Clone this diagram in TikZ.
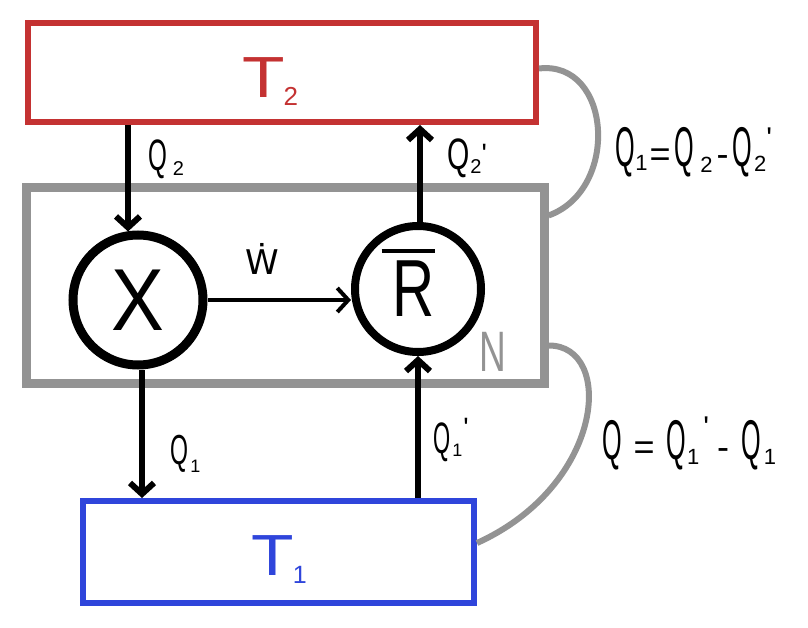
\documentclass[tikz,border=0pt]{standalone}
\usepackage{fontspec}
\setmainfont{Liberation Sans}
\newfontfamily\dvfont{DejaVu Sans}
\usepackage{graphicx}
\usetikzlibrary{arrows.meta,calc}
\definecolor{tred}{HTML}{C43232}
\definecolor{tgray}{HTML}{939393}
\definecolor{tblue}{HTML}{2F45DB}
\newcommand{\mylo}[3]{\raisebox{-#2}{\fontsize{#1}{#1}\selectfont #3}}
\newcommand{\myQ}[2]{\scalebox{#2}[1]{\fontsize{#1}{#1}\selectfont Q}}
\newcommand{\myprime}[2]{\raisebox{#2}{\fontsize{#1}{#1}\selectfont\textquotesingle}}
\tikzset{
  reservoir/.style={draw, rectangle, inner sep=0pt},
  machine/.style={draw, circle, inner sep=0pt, line width=9pt},
  lbl/.style={inner sep=0pt},
  arr/.style={line width=6pt, -{Straight Barb[length=11pt,width=24pt]}},
  warr/.style={line width=4pt, -{Straight Barb[length=11pt,width=24pt]}},
  link/.style={draw=tgray, line width=6pt},
}
\begin{document}
\begin{tikzpicture}[x=1pt, y=-1pt]
\useasboundingbox (0,0) rectangle (808,628);
% reservoirs and system boundary
\node[reservoir, draw=tred, line width=6pt, minimum width=508pt, minimum height=99pt] (T2) at (282,72.5) {};
\node[reservoir, draw=tgray, line width=9pt, minimum width=518pt, minimum height=195pt] (G) at (285,285.5) {};
\node[reservoir, draw=tblue, line width=6pt, minimum width=391pt, minimum height=102pt] (B) at (278.5,552) {};
% machines
\node[machine, minimum size=130pt, font=\fontsize{88}{88}\selectfont] (X) at (138,300) {\scalebox{0.9}[1]{X}};
\node[machine, line width=8pt, minimum size=126pt] (R) at (418,289) {};
\node[lbl, font=\fontsize{81}{81}\selectfont] (Rtxt) at (414,289) {\scalebox{0.72}[1]{R}};
\draw[line width=4pt] ($(Rtxt.north west)+(-11,-10)$) -- ($(Rtxt.north east)+(0,-10)$);
% labels of reservoirs and boundary
\node[lbl, text=tred, font=\fontsize{58}{58}\selectfont] (T2l) at (270,81.5)
  {\scalebox{1.2}[1]{T}\kern-1pt\mylo{26}{8pt}{2}};
\node[lbl, text=tblue, font=\fontsize{58}{58}\selectfont] (T1l) at (279,560)
  {\scalebox{1.2}[1]{T}\kern-1pt\mylo{25}{8pt}{1}};
\node[lbl, text=tgray, font=\fontsize{57}{57}\selectfont] (Nl) at (493,352) {\scalebox{0.65}[1]{N}};
% heat and work flows
\coordinate (xin) at ($(X.north)+(-10,1)$);
\coordinate (xout) at ($(X.south)+(4,0)$);
\coordinate (rout) at ($(R.north)+(2,0)$);
\coordinate (rin) at ($(R.south)+(0,0)$);
\draw[arr] (T2.south -| xin) -- (xin);
\draw[arr] (rout) -- (T2.south -| rout);
\draw[arr] (xout) -- (B.north -| xout);
\draw[arr] (B.north -| rin) -- (rin);
\draw[warr] (X.east) -- (X.east -| R.west);
% flow labels
\node[lbl] (q2) at (166,159) {\myQ{44}{0.55}\kern6pt\mylo{20}{5pt}{2}};
\node[lbl] (q2p) at (467,158) {\myQ{44}{0.65}\kern1pt\mylo{20}{4pt}{2}\myprime{28}{6pt}};
\node[lbl] (w) at (262,259) {\fontsize{34}{34}\selectfont\dvfont Ẇ};
\node[lbl] (q1) at (185.5,454) {\myQ{42}{0.55}\kern2pt\mylo{18}{8pt}{1}};
\node[lbl] (q1p) at (451,440) {\myQ{44}{0.5}\kern2pt\mylo{18}{3pt}{1}\kern1pt\myprime{28}{16pt}};
% balance links
\coordinate (u1) at ($(T2.east)+(0,-4)$);
\coordinate (u2) at ($(G.east)+(0,-70)$);
\coordinate (d1) at ($(G.east)+(0,60)$);
\coordinate (d2) at ($(B.east)+(0,-9)$);
\draw[link] (u1) .. controls (612,60) and (620,190) .. (u2);
\draw[link] (d1) .. controls (615,345) and (605,485) .. (d2);
% balance equations
\node[lbl] (eq1) at (694,152) {\myQ{56}{0.45}\mylo{22}{4pt}{1}\kern2pt{\fontsize{36}{36}\selectfont=}\kern4pt\myQ{56}{0.45}\kern6pt\mylo{22}{6pt}{2}\kern4pt{\fontsize{36}{36}\selectfont-}\kern4pt\myQ{56}{0.45}\kern2pt\mylo{22}{5pt}{2}\myprime{30}{18pt}};
\node[lbl] (eq2) at (689,443) {\myQ{56}{0.45}\kern12pt{\fontsize{36}{36}\selectfont=}\kern12pt\myQ{56}{0.45}\kern1pt\mylo{22}{5pt}{1}\kern4pt\myprime{30}{22pt}\kern8pt{\fontsize{36}{36}\selectfont-}\kern12pt\myQ{56}{0.45}\kern3pt\mylo{22}{5pt}{1}};
\end{tikzpicture}
\end{document}
